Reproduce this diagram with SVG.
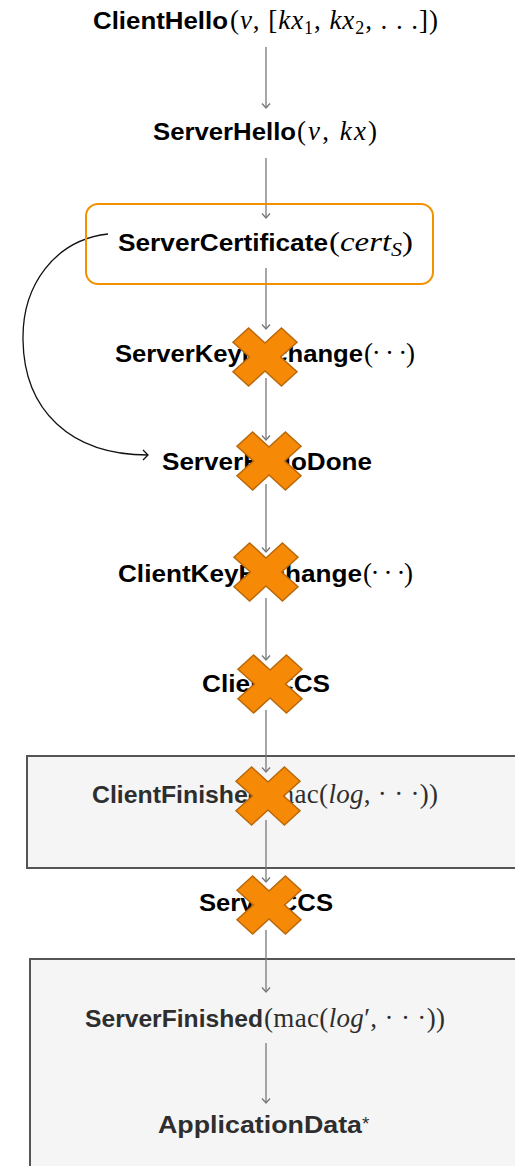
<svg xmlns="http://www.w3.org/2000/svg" width="515" height="1166" viewBox="0 0 515 1166">
  <style>
    .b { font-family: "Liberation Sans", Arial, sans-serif; font-weight: bold; font-size: 24px; fill: #000; }
    .m { font-family: "Liberation Serif", "Times New Roman", serif; font-size: 27px; fill: #000; }
    .i { font-style: italic; }
    .dim { fill: #2e2e2e; }
    .flow { fill: none; stroke: #777; stroke-width: 1.3; marker-end: url(#tip); }
    .jump { fill: none; stroke: #111; stroke-width: 1.3; marker-end: url(#tipDark); }
    .panel { fill: #f5f5f5; stroke: #555; stroke-width: 2; }
    .cert { fill: none; stroke: #f39200; stroke-width: 2; }
    .cross { fill: #f68a07; stroke: #b9680a; stroke-width: 1.5; stroke-linejoin: miter; }
  </style>
  <defs>
    <marker id="tip" markerUnits="userSpaceOnUse" markerWidth="12" markerHeight="12" refX="0" refY="0" viewBox="-6 -6 12 12" orient="auto">
      <path d="M-4.5,-4 L0,0 L-4.5,4" fill="none" stroke="#777" stroke-width="1.3"/>
    </marker>
    <marker id="tipDark" markerUnits="userSpaceOnUse" markerWidth="14" markerHeight="14" refX="0" refY="0" viewBox="-7 -7 14 14" orient="auto">
      <path d="M-5,-5 L0,0 L-5,5" fill="none" stroke="#111" stroke-width="1.3"/>
    </marker>
    <polygon id="xmark" points="0,-14 16.4,-29 32,-14.8 15.6,0 32,14.8 16.4,29 0,14 -16.4,29 -32,14.8 -15.6,0 -32,-14.8 -16.4,-29"/>
  </defs>

  <!-- grey panels for the finished/app-data section -->
  <g id="panel-client-finished">
    <rect class="panel" x="27" y="756" width="500" height="112"/>
  </g>
  <g id="panel-server-finished">
    <rect class="panel" x="30" y="959" width="500" height="230"/>
  </g>

  <!-- connectors -->
  <g id="connectors">
    <line class="flow" x1="266" y1="47" x2="266" y2="108"/>
    <line class="flow" x1="266" y1="158" x2="266" y2="218"/>
    <line class="flow" x1="266" y1="268" x2="266" y2="329"/>
    <line class="flow" x1="266" y1="378" x2="266" y2="440"/>
    <line class="flow" x1="266" y1="484" x2="266" y2="552"/>
    <line class="flow" x1="266" y1="598" x2="266" y2="660"/>
    <line class="flow" x1="266" y1="710" x2="266" y2="772"/>
    <line class="flow" x1="266" y1="820" x2="266" y2="882"/>
    <line class="flow" x1="266" y1="930" x2="266" y2="992"/>
    <line class="flow" x1="266" y1="1043" x2="266" y2="1103"/>
    <path class="jump" d="M108,234 C55,240 22,285 23,340 C24,410 70,455 148,455"/>
  </g>

  <g id="client-hello">
    <text class="b" x="93" y="29" textLength="135" lengthAdjust="spacingAndGlyphs">ClientHello</text>
    <text class="m" x="230" y="29" textLength="208" lengthAdjust="spacing">(<tspan class="i">v</tspan>, [<tspan class="i">kx</tspan><tspan font-size="18" dy="5">1</tspan><tspan dy="-5">, </tspan><tspan class="i">kx</tspan><tspan font-size="18" dy="5">2</tspan><tspan dy="-5">, . . .])</tspan></text>
  </g>

  <g id="server-hello">
    <text class="b" x="153" y="140" textLength="143" lengthAdjust="spacingAndGlyphs">ServerHello</text>
    <text class="m" x="297" y="140" textLength="80" lengthAdjust="spacing">(<tspan class="i">v</tspan>, <tspan class="i">kx</tspan>)</text>
  </g>

  <g id="server-certificate">
    <rect class="cert" x="86" y="204" width="347" height="80" rx="12"/>
    <text class="b" x="118" y="251" textLength="210" lengthAdjust="spacingAndGlyphs">ServerCertificate</text>
    <text class="m" x="329" y="251" textLength="84" lengthAdjust="spacingAndGlyphs">(<tspan class="i">cert</tspan><tspan class="i" font-size="18" dy="5">S</tspan><tspan dy="-5">)</tspan></text>
  </g>

  <g id="server-key-exchange">
    <text class="b" x="115" y="362" textLength="248" lengthAdjust="spacingAndGlyphs">ServerKeyExchange</text>
    <text class="m" x="364" y="362" textLength="51" lengthAdjust="spacing">(· · ·)</text>
  </g>

  <g id="server-hello-done">
    <text class="b" x="162" y="470" textLength="210" lengthAdjust="spacingAndGlyphs">ServerHelloDone</text>
  </g>

  <g id="client-key-exchange">
    <text class="b" x="118" y="582" textLength="244" lengthAdjust="spacingAndGlyphs">ClientKeyExchange</text>
    <text class="m" x="363" y="582" textLength="50" lengthAdjust="spacing">(· · ·)</text>
  </g>

  <g id="client-ccs">
    <text class="b" x="202" y="692" textLength="128" lengthAdjust="spacingAndGlyphs">ClientCCS</text>
  </g>

  <g id="client-finished">
    <text class="b dim" x="92" y="803" textLength="171" lengthAdjust="spacingAndGlyphs">ClientFinished</text>
    <text class="m dim" x="264" y="803" textLength="174" lengthAdjust="spacing">(mac(<tspan class="i">log</tspan>, · · ·))</text>
  </g>

  <g id="server-ccs">
    <text class="b" x="199" y="911" textLength="134" lengthAdjust="spacingAndGlyphs">ServerCCS</text>
  </g>

  <g id="server-finished">
    <text class="b dim" x="85" y="1027" textLength="178" lengthAdjust="spacingAndGlyphs">ServerFinished</text>
    <text class="m dim" x="264" y="1027" textLength="181" lengthAdjust="spacing">(mac(<tspan class="i">log</tspan>′, · · ·))</text>
  </g>

  <g id="application-data">
    <text class="b dim" x="158" y="1133" textLength="204" lengthAdjust="spacingAndGlyphs">ApplicationData</text>
    <text class="dim" x="362" y="1130" font-family="Liberation Sans, Arial, sans-serif" font-size="19">*</text>
  </g>

  <!-- crossed-out messages -->
  <g id="crosses">
    <use class="cross" href="#xmark" transform="translate(265,357)"/>
    <use class="cross" href="#xmark" transform="translate(269,461)"/>
    <use class="cross" href="#xmark" transform="translate(266,572)"/>
    <use class="cross" href="#xmark" transform="translate(270,684)"/>
    <use class="cross" href="#xmark" transform="translate(268,796)"/>
    <use class="cross" href="#xmark" transform="translate(269,905)"/>
  </g>
</svg>
